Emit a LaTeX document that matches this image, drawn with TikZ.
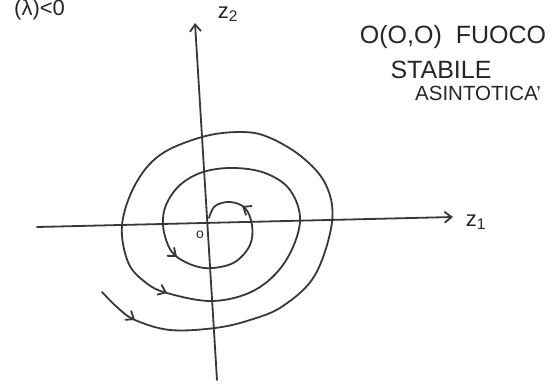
\documentclass[tikz,border=0pt]{standalone}
\usepackage{fontspec}
\setmainfont{Liberation Sans}
\usetikzlibrary{arrows.meta}
\begin{document}
\begin{tikzpicture}[x=1pt,y=-1pt,
  pen/.style={line width=1.8pt, draw=black!78, line cap=round, line join=round},
  barb/.style={pen,-{Straight Barb[length=7pt,width=11pt]}},
  hand/.style={inner sep=0pt, text=black!85}]
\useasboundingbox (0,0) rectangle (553,385);
\clip (0,0) rectangle (553,385);
% axes
\coordinate (xl) at (37,227);
\coordinate (xr) at (453,217);
\coordinate (yb) at (217,380);
\coordinate (yt) at (195,23);
\draw[barb] (xl) -- (xr);
\draw[barb] (yb) -- (yt);
\node[hand, font=\fontsize{22}{22}\selectfont] (z2) at (228,14) {z\textsubscript{2}};
\node[hand, font=\fontsize{22}{22}\selectfont] (z1) at (476,222) {z\textsubscript{1}};
\node[hand, font=\fontsize{14}{14}\selectfont] (O) at (200,235) {o};
% texts
\node[hand, font=\fontsize{22}{22}\selectfont, anchor=base west] (cond) at (14,16) {(λ)<0};
\node[hand, font=\fontsize{25}{25}\selectfont] (t1) at (453,37) {O(O,O)\ \ FUOCO};
\node[hand, font=\fontsize{25}{25}\selectfont] (t2) at (441,70) {STABILE};
\node[hand, font=\fontsize{20.5}{20.5}\selectfont] (t3) at (478,93) {ASINTOTICA'};
% spiral
\draw[pen] plot[smooth, tension=0.6] coordinates {
 (102,292) (118,308) (135,320) (170,330) (215,328) (250,320) (283,306) (315,275)
 (332,222) (326,185) (302,157) (268,137) (240,132) (202,137) (160,155) (135,185)
 (122,225) (128,262) (145,282) (167,293) (213,301) (255,290) (285,262) (300,222)
 (290,190) (265,173) (233,168) (203,172) (180,185) (166,205) (163,225) (168,245)
 (177,257) (195,266) (213,268) (235,262) (250,245) (252,225) (245,208) (230,202)
 (215,206) (209,218)};
% arrowheads on the trajectory
\coordinate (a1s) at (132.5,318.3); \coordinate (a1) at (135,320);
\coordinate (a2s) at (164.7,292);  \coordinate (a2) at (167,293);
\coordinate (a3s) at (175.2,255.5); \coordinate (a3) at (177,257);
\coordinate (a4s) at (244,207.3);  \coordinate (a4) at (242,206);
\draw[barb] (a1s) -- (a1);
\draw[barb] (a2s) -- (a2);
\draw[barb] (a3s) -- (a3);
\draw[barb] (a4s) -- (a4);
\end{tikzpicture}
\end{document}
